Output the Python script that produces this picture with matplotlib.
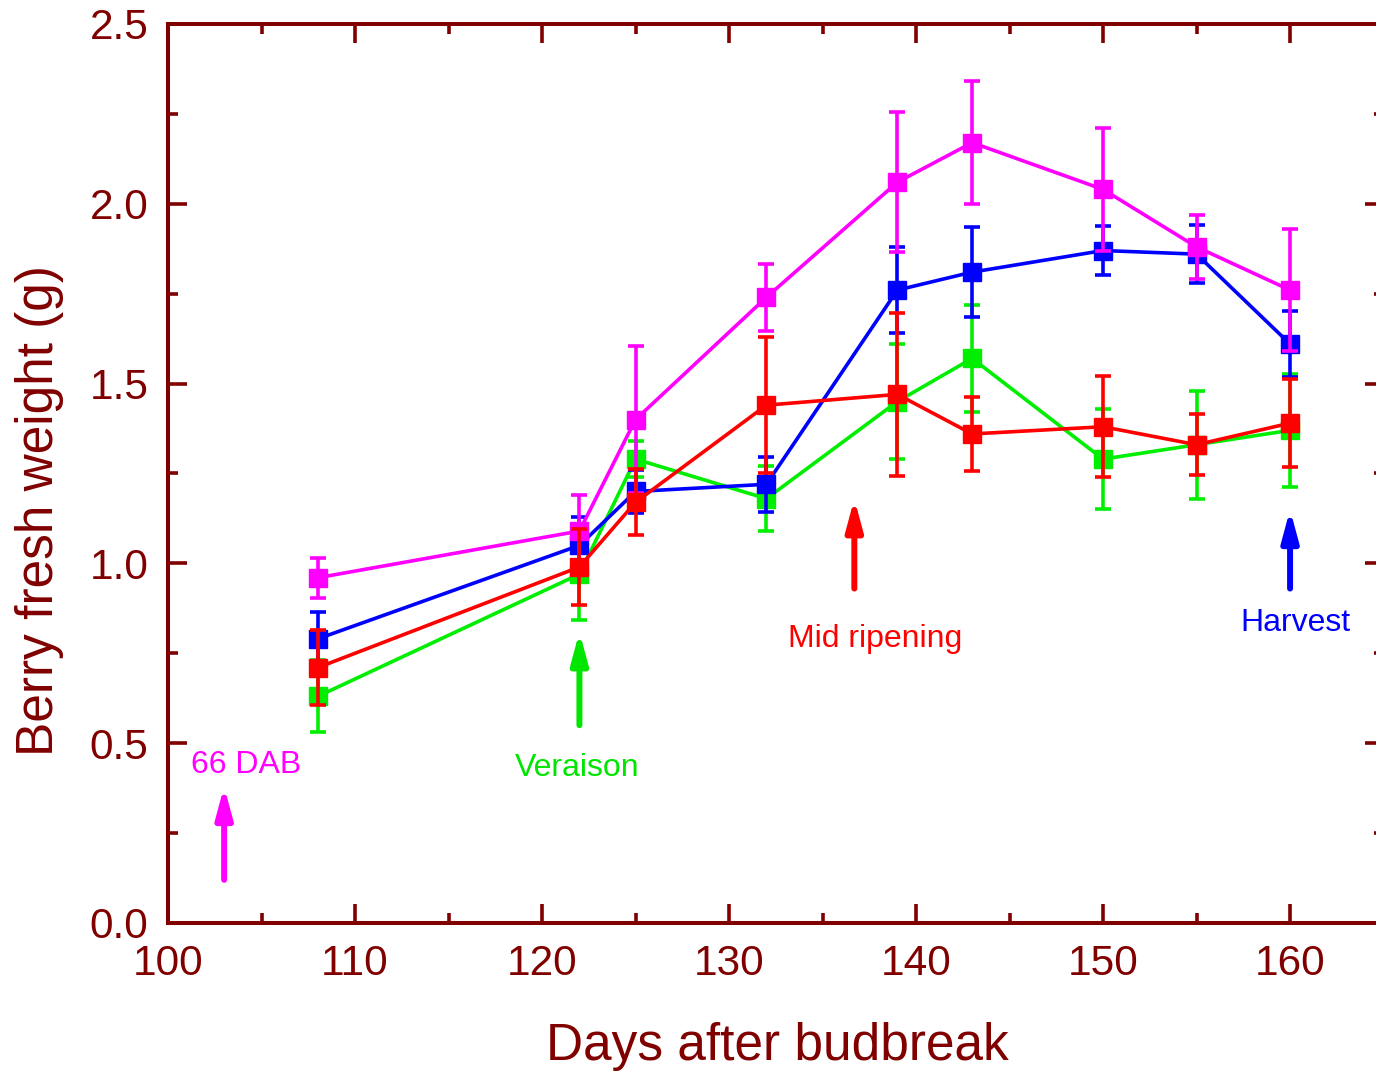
import numpy as np
import matplotlib
matplotlib.use("Agg")
import matplotlib.pyplot as plt
from matplotlib.ticker import MultipleLocator

plt.rcParams['font.family'] = ['Liberation Sans', 'DejaVu Sans']

# Data
days = [108, 122, 125, 132, 139, 143, 150, 155, 160]

magenta = [0.96, 1.09, 1.40, 1.74, 2.06, 2.17, 2.04, 1.88, 1.76]
magenta_err = [0.055, 0.10, 0.205, 0.093, 0.195, 0.171, 0.172, 0.089, 0.17]

blue = [0.79, 1.05, 1.20, 1.22, 1.76, 1.81, 1.87, 1.86, 1.61]
blue_err = [0.075, 0.08, 0.06, 0.077, 0.12, 0.125, 0.067, 0.08, 0.092]

red = [0.71, 0.99, 1.17, 1.44, 1.47, 1.36, 1.38, 1.33, 1.39]
red_err = [0.105, 0.107, 0.092, 0.19, 0.227, 0.103, 0.14, 0.085, 0.122]

green = [0.63, 0.97, 1.29, 1.18, 1.45, 1.57, 1.29, 1.33, 1.37]
green_err = [0.10, 0.128, 0.05, 0.09, 0.16, 0.149, 0.14, 0.15, 0.157]

# stage arrows and their labels
stage_labels = ['66 DAB', 'Veraison', 'Mid ripening', 'Harvest']
stage_days = [103, 122, 136.7, 160]
arrow_start = [0.12, 0.55, 0.93, 0.93]
arrow_tip = [0.38, 0.81, 1.18, 1.15]
label_x = [104.2, 121.9, 137.8, 160.3]
label_y = [0.44, 0.43, 0.79, 0.835]
stage_colors = ['#FF00FF', '#00E600', '#FF0000', '#0000FF']

axcol = '#800000'

fig = plt.figure(figsize=(13.76, 10.71), dpi=100)
ax = fig.add_axes([0.1221, 0.1382, 0.8834, 0.8394])

series = [
    (green, green_err, '#00EE00', 2),
    (blue, blue_err, '#0000FF', 3),
    (magenta, magenta_err, '#FF00FF', 4),
    (red, red_err, '#FF0000', 5),
]
for vals, errs, col, z in series:
    ax.errorbar(days, vals, yerr=errs, fmt='s-', color=col, ms=13.5,
                lw=2.6, elinewidth=2.6, capsize=5.5, capthick=2.6, zorder=z)

# arrows + labels
for lab, d, y0, y1, tx, ty, col in zip(stage_labels, stage_days, arrow_start,
                                        arrow_tip, label_x, label_y, stage_colors):
    ax.annotate('', xy=(d, y1), xytext=(d, y0),
                arrowprops=dict(arrowstyle='-|>,head_length=1.3,head_width=0.35',
                                color=col, lw=4.3, shrinkA=0, shrinkB=0,
                                mutation_scale=14, capstyle='round'))
    ax.text(tx, ty, lab, color=col, fontsize=23, ha='center', va='center')

ax.set_xlim(100, 165)
ax.set_ylim(0, 2.5)
ax.xaxis.set_major_locator(MultipleLocator(10))
ax.xaxis.set_minor_locator(MultipleLocator(5))
ax.yaxis.set_major_locator(MultipleLocator(0.5))
ax.yaxis.set_minor_locator(MultipleLocator(0.25))
ax.yaxis.set_major_formatter(plt.FormatStrFormatter('%.1f'))

for s in ax.spines.values():
    s.set_color(axcol)
    s.set_linewidth(2.9)

ax.tick_params(which='both', direction='in', top=True, right=True,
               color=axcol, width=2.6, labelcolor=axcol, labelsize=30.5)
ax.tick_params(which='major', length=14)
ax.tick_params(which='minor', length=7)
ax.tick_params(axis='x', pad=15)
ax.tick_params(axis='y', pad=14)

ax.set_xlabel('Days after budbreak', fontsize=37, color=axcol)
ax.set_ylabel('Berry fresh weight (g)', fontsize=37, color=axcol)
ax.xaxis.set_label_coords(0.501, -0.11)
ax.yaxis.set_label_coords(-0.0856, 0.459)

fig.savefig('out.png', dpi=100)
